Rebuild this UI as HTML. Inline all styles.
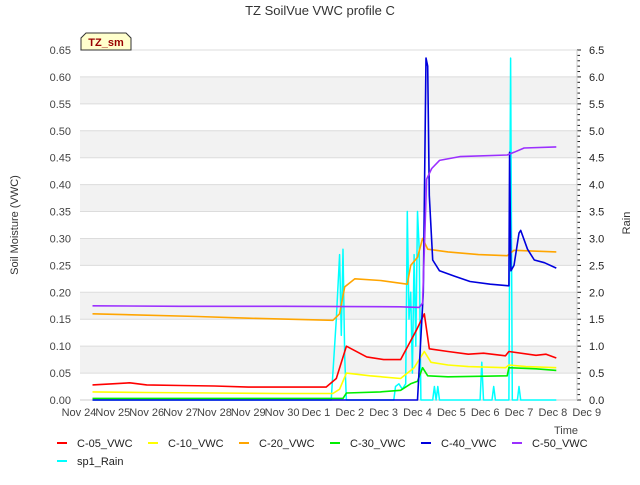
<!DOCTYPE html>
<html><head><meta charset="utf-8"><style>
body{margin:0;background:#fff;font-family:"Liberation Sans","DejaVu Sans",sans-serif}
</style></head><body>
<svg id="c" width="640" height="480" xmlns="http://www.w3.org/2000/svg" font-family="Liberation Sans, DejaVu Sans, sans-serif"></svg>
<script>
const tickLabels=["Nov 24","Nov 25","Nov 26","Nov 27","Nov 28","Nov 29","Nov 30","Dec 1","Dec 2","Dec 3","Dec 4","Dec 5","Dec 6","Dec 7","Dec 8","Dec 9"];
const yTicks=[0,0.05,0.1,0.15,0.2,0.25,0.3,0.35,0.4,0.45,0.5,0.55,0.6,0.65];
const c05Days=[0.4,1,1.5,2,3,4,5,6,7.3,7.6,7.9,8.5,9,9.5,9.97,10.2,10.35,10.9,11.5,11.95,12.6,12.7,13.5,13.8,14.1];
const c05Vals=[0.028,0.03,0.032,0.028,0.027,0.026,0.024,0.024,0.024,0.04,0.1,0.08,0.075,0.075,0.13,0.16,0.095,0.09,0.085,0.087,0.082,0.09,0.083,0.085,0.078];
const c10Days=[0.4,2,4,6,7.5,7.7,7.9,8.6,9.5,9.9,10.2,10.4,10.9,11.5,12.6,12.7,13.2,14.1];
const c10Vals=[0.015,0.014,0.013,0.012,0.012,0.02,0.05,0.045,0.04,0.06,0.09,0.07,0.065,0.062,0.06,0.065,0.062,0.06];
const c20Days=[0.4,3.5,5,7.5,7.7,7.85,8.15,8.9,9.7,9.8,10.0,10.15,10.3,10.9,11.8,12.65,12.85,14.1];
const c20Vals=[0.16,0.155,0.152,0.148,0.16,0.21,0.225,0.222,0.215,0.25,0.265,0.3,0.28,0.275,0.27,0.268,0.278,0.275];
const c30Days=[0.4,7.8,7.9,8.9,9.5,9.8,10.0,10.15,10.3,10.9,12.65,12.7,13.5,14.1];
const c30Vals=[0.003,0.003,0.013,0.015,0.018,0.03,0.035,0.06,0.045,0.043,0.045,0.06,0.058,0.055];
const c40Days=[0.4,10.0,10.17,10.25,10.3,10.35,10.45,10.65,11.1,11.55,12.15,12.7,12.72,12.76,12.85,13.0,13.05,13.25,13.45,13.75,14.1];
const c40Vals=[0,0,0.2,0.635,0.62,0.38,0.26,0.24,0.23,0.22,0.215,0.212,0.46,0.24,0.25,0.31,0.315,0.28,0.26,0.255,0.245];
const c50Days=[0.4,3,6,9.5,10.05,10.15,10.27,10.42,10.65,11.25,12.65,12.85,13.15,14.1];
const c50Vals=[0.175,0.174,0.174,0.173,0.172,0.18,0.41,0.43,0.445,0.452,0.455,0.46,0.468,0.47];
const rainDays=[0.4,7.45,7.5,7.6,7.7,7.75,7.8,7.85,7.9,7.95,9.3,9.35,9.45,9.55,9.65,9.7,9.75,9.8,9.85,9.9,9.95,10.0,10.05,10.1,10.15,10.2,10.25,10.3,10.45,10.5,10.55,10.6,10.65,11.85,11.9,11.95,12.2,12.25,12.3,12.7,12.75,12.8,12.95,13.0,13.05,14.1];
const rainVals=[0,0,0.5,1.5,2.7,1.2,2.8,0.8,0,0,0,0.25,0.3,0.2,0.3,3.5,1.5,2.0,0.5,2.7,1.0,3.5,2.8,0,0,0,0,0,0,0.25,0,0.25,0,0,0.7,0,0,0.25,0,0,6.35,0,0,0.25,0,0];

const svg=document.getElementById('c');const NS='http://www.w3.org/2000/svg';
const L=80,R=577,T=50,B=400;
const X=d=>79+d*33.85;
const Y=v=>B-(v/0.65)*(B-T);
const YR=v=>B-(v/6.5)*(B-T);
function el(t,a,p){const e=document.createElementNS(NS,t);for(const k in a)e.setAttribute(k,a[k]);(p||svg).appendChild(e);return e;}
function txt(s,a){const e=el('text',a);e.textContent=s;return e;}
// bands
for(let i=1;i<13;i+=2){
 const b=el('rect',{x:L,y:Y(yTicks[i+1]),width:R-L,height:Y(yTicks[i])-Y(yTicks[i+1]),fill:'#f2f2f2'});
 
 
}
yTicks.forEach((v,i)=>{
 el('line',{x1:L,x2:R,y1:Y(v),y2:Y(v),stroke:'#dcdcdc','stroke-width':1});
 const t=txt(v.toFixed(2),{x:L-9,y:Y(v)+4,'font-size':11,fill:'#444','text-anchor':'end'});
 
 
 const t2=txt((v*10).toFixed(1),{x:R+12,y:Y(v)+4,'font-size':11,fill:'#222'});
 
 
});
for(let r=0;r<=65;r++){el('line',{x1:R,x2:R+(r%5==0?4:3),y1:YR(r/10),y2:YR(r/10),stroke:'#222','stroke-width':1});}
el('line',{x1:L,x2:R,y1:B,y2:B,stroke:'#ccc'});
el('line',{x1:R,x2:R,y1:T,y2:B,stroke:'#ccc'});
tickLabels.forEach((s,i)=>{
 const t=txt(s,{x:X(i),y:B+16,'font-size':11,fill:'#444','text-anchor':'middle'});
 
 
});
function line(days,vals,yf,color,name,w){
 const d=days.map((x,i)=>(i?'L':'M')+X(x).toFixed(1)+','+yf(vals[i]).toFixed(1)).join('');
 const p=el('path',{d:d,fill:'none',stroke:color,'stroke-width':w||1.6,'stroke-linejoin':'round'});
 
 
}
line(rainDays,rainVals,YR,'#00ffff','sp1-rain-line',1.5);
line(c05Days,c05Vals,Y,'#ff0000','c05-vwc-line');
line(c10Days,c10Vals,Y,'#ffff00','c10-vwc-line');
line(c20Days,c20Vals,Y,'#ffa500','c20-vwc-line');
line(c30Days,c30Vals,Y,'#00ee00','c30-vwc-line');
line(c40Days,c40Vals,Y,'#0000dd','c40-vwc-line');
line(c50Days,c50Vals,Y,'#9b30ff','c50-vwc-line');
</script>
<script>
(function(){const svg=document.getElementById('c');const NS='http://www.w3.org/2000/svg';
function el(t,a){const e=document.createElementNS(NS,t);for(const k in a)e.setAttribute(k,a[k]);svg.appendChild(e);return e;}
function txt(s,a){const e=el('text',a);e.textContent=s;return e;}
let t=txt('TZ SoilVue VWC profile C',{x:320,y:15,'font-size':13,fill:'#333','text-anchor':'middle'});


t=txt('Soil Moisture (VWC)',{x:18,y:225,'font-size':11,fill:'#333','text-anchor':'middle',transform:'rotate(-90 18 225)'});


t=txt('Rain',{x:630,y:223,'font-size':11,fill:'#333','text-anchor':'middle',transform:'rotate(-90 630 223)'});


t=txt('Time',{x:566,y:434,'font-size':11,fill:'#444','text-anchor':'middle'});


let b=el('path',{d:'M81,50 L81,38 L86,33 L126,33 L131,38 L131,50 Z',fill:'#ffffcc',stroke:'#333','stroke-width':1});


t=txt('TZ_sm',{x:106,y:46,'font-size':11,'font-weight':'bold',fill:'#990000','text-anchor':'middle'});


const legNames=['C-05_VWC','C-10_VWC','C-20_VWC','C-30_VWC','C-40_VWC','C-50_VWC','sp1_Rain'];
const legColors=['#ff0000','#ffff00','#ffa500','#00ee00','#0000dd','#9b30ff','#00ffff'];
legNames.forEach((n,i)=>{
 const x=i<6?57+i*91:57, y=i<6?443:461;
 const m=el('line',{x1:x,x2:x+10,y1:y,y2:y,stroke:legColors[i],'stroke-width':2});
 
 
 const tt=txt(n,{x:x+20,y:y+4,'font-size':11,fill:'#222'});
 
 
});
})();
</script>
</body></html>
